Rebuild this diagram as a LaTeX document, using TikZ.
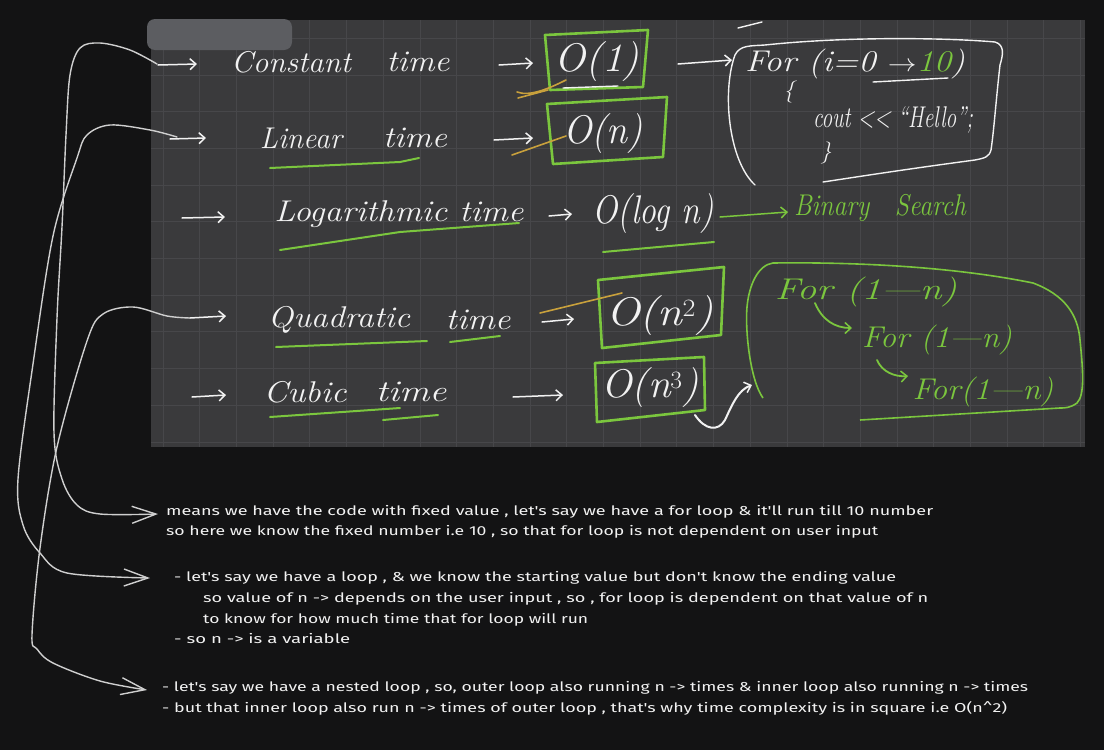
\documentclass[tikz,border=0pt]{standalone}
\usepackage{fontspec}
\usepackage{graphicx}
\usetikzlibrary{arrows.meta}
\newfontfamily\notefont{Fira Sans}
\definecolor{bgc}{HTML}{131314}
\definecolor{panelc}{HTML}{3A3A3C}
\definecolor{gridc}{HTML}{47474A}
\definecolor{blurc}{HTML}{5C5D61}
\definecolor{gr}{HTML}{7BC63E}
\definecolor{orc}{HTML}{C9A13C}
\definecolor{wt}{HTML}{F2F2F2}
\definecolor{crv}{HTML}{CFCFCF}
\newcommand\fw[2]{\resizebox{#1}{\height}{#2}}
\begin{document}
\begin{tikzpicture}[x=1pt,y=-1pt,
  hand/.style={inner sep=0pt, text=wt, font=\fontsize{30}{32}\selectfont\itshape},
  bighand/.style={hand, font=\fontsize{40}{42}\selectfont\itshape},
  smallhand/.style={hand, font=\fontsize{22}{24}\selectfont\itshape},
  ghand/.style={hand, text=gr},
  note/.style={inner sep=0pt, anchor=west, text=wt, font=\notefont\fontsize{13}{15}\selectfont},
  tinyarr/.style={wt, line width=1.5pt, line cap=round, -{Straight Barb[length=6pt,width=11pt,line width=1.5pt]}},
  gtinyarr/.style={tinyarr, gr},
  gbox/.style={gr, line width=2.6pt, line join=round},
  wbox/.style={wt, line width=1.4pt, line cap=round},
  gline/.style={gr, line width=2pt, line cap=round},
  oline/.style={orc, line width=1.6pt, line cap=round},
  longcurve/.style={crv, line width=1.4pt, line cap=round, -{Straight Barb[length=24pt,width=17pt,line width=1.4pt]}},
]
\fill[bgc] (0,0) rectangle (1104,750);
\useasboundingbox (0,0) rectangle (1104,750);
% panel
\fill[panelc] (151,20) rectangle (1085,447);
\foreach \i in {0,...,25} \draw[gridc, line width=0.8pt] ({163+36.7*\i},20) -- ({163+36.7*\i},447);
\foreach \j in {0,...,11} \draw[gridc, line width=0.8pt] (151,{38.2+36.7*\j}) -- (1085,{38.2+36.7*\j});
\fill[blurc, rounded corners=8pt] (147,19) rectangle (292,50);

% row texts
\node[hand] (cT)  at (291,62) {\fw{120pt}{Constant}};
\node[hand] (cTm) at (418,62) {\fw{63pt}{time}};
\node[hand] (lT)  at (301,138) {\fw{82pt}{Linear}};
\node[hand] (lTm) at (415,138) {\fw{64pt}{time}};
\node[hand] (gT)  at (399,214) {\fw{249pt}{Logarithmic time}};
\node[hand] (qT)  at (339,320) {\fw{142pt}{Quadratic}};
\node[hand] (qTm) at (478,320) {\fw{65pt}{time}};
\node[hand] (kT)  at (305,392) {\fw{83pt}{Cubic}};
\node[hand] (kTm) at (411,392) {\fw{71pt}{time}};

\node[bighand] (o1) at (597,62) {\fw{85pt}{O(1)}};
\node[bighand] (o2) at (603,134) {\fw{80pt}{O(n)}};
\node[bighand] (o3) at (653,214) {\fw{121pt}{O(log n)}};
\node[bighand] (o4) at (660,316) {\fw{108pt}{O(n$^2$)}};
\node[bighand] (o5) at (650,388) {\fw{98pt}{O(n$^3$)}};
\node[ghand] (bs) at (880,208) {\fw{172pt}{Binary\quad Search}};

% green boxes
\draw[gbox] (545,35) -- (648,30) -- (643,87) -- (550,90) -- cycle;
\draw[gbox] (547,104) -- (667,97) -- (663,157) -- (553,164) -- cycle;
\draw[gbox] (598,280) -- (724,267) -- (721,335) -- (602,348) -- cycle;
\draw[gbox] (595,363) -- (704,357) -- (705,410) -- (597,422) -- cycle;

% small arrows
\coordinate (s1a) at (158,65);  \coordinate (s1b) at (197,64);
\coordinate (s2a) at (170,139); \coordinate (s2b) at (206,138);
\coordinate (s3a) at (182,218); \coordinate (s3b) at (225,217);
\coordinate (s4a) at (190,318); \coordinate (s4b) at (226,316);
\coordinate (s5a) at (192,397); \coordinate (s5b) at (226,395);
\draw[tinyarr] (s1a) -- (s1b);
\draw[tinyarr] (s2a) -- (s2b);
\draw[tinyarr] (s3a) -- (s3b);
\draw[tinyarr] (s4a) -- (s4b);
\draw[tinyarr] (s5a) -- (s5b);
\coordinate (t1a) at (499,65);  \coordinate (t1b) at (533,63);
\coordinate (t2a) at (494,140); \coordinate (t2b) at (533,138);
\coordinate (t3a) at (549,216); \coordinate (t3b) at (572,214);
\coordinate (t4a) at (542,322); \coordinate (t4b) at (574,319);
\coordinate (t5a) at (513,397); \coordinate (t5b) at (563,395);
\draw[tinyarr] (t1a) -- (t1b);
\draw[tinyarr] (t2a) -- (t2b);
\draw[tinyarr] (t3a) -- (t3b);
\draw[tinyarr] (t4a) -- (t4b);
\draw[tinyarr] (t5a) -- (t5b);
\coordinate (fa) at (678,64); \coordinate (fb) at (732,60);
\draw[tinyarr] (fa) -- (fb);
\coordinate (ba) at (720,217); \coordinate (bb) at (788,212);
\draw[gtinyarr] (ba) -- (bb);

% underlines
\draw[gline] (270,168) -- (400,162) -- (419,158);
\draw[gline] (280,250) -- (400,232) -- (519,223);
\draw[gline] (603,252) -- (714,242);
\draw[gline] (276,347) -- (427,341);
\draw[gline] (450,342) -- (500,336);
\draw[gline] (270,417) -- (400,408);
\draw[gline] (383,420) -- (438,415);
\draw[wbox] (563,88) -- (618,86);
% orange strokes
\draw[oline] (517,92) .. controls (530,97) and (550,88) .. (566,80);
\draw[oline] (518,98) -- (548,90);
\draw[oline] (512,155) -- (566,136);
\draw[oline] (540,313) -- (622,293);

% for loop code box
\draw[wbox] (755,185) .. controls (728,160) and (722,90) .. (735,55) .. controls (740,45) and (750,46) .. (765,45) .. controls (850,36) and (950,38) .. (995,42) .. controls (1005,45) and (1003,55) .. (1000,65) .. controls (996,100) and (994,130) .. (991,150) .. controls (989,157) and (985,158) .. (975,160) .. controls (900,170) and (850,178) .. (823,182);
\draw[wbox] (738,28) -- (762,22);
\node[hand] (f1) at (855,64) {\fw{220pt}{For (i=0 $\rightarrow$\textcolor{gr}{10})}};
\draw[wbox] (873,82) -- (948,78);
\node[smallhand] (f2) at (789,92) {\{};
\node[hand] (f3) at (893,120) {\fw{160pt}{cout <{}< ``Hello'';}};
\node[smallhand] (f4) at (826,153) {\}};

% nested loop box
\draw[gbox, line width=1.6pt] (763,398) .. controls (750,380) and (745,330) .. (747,307) .. controls (749,285) and (758,265) .. (773,263) .. controls (850,262) and (950,266) .. (1033,283) .. controls (1065,295) and (1078,315) .. (1080,340) .. controls (1083,370) and (1085,395) .. (1077,403) .. controls (1070,408) and (1065,408) .. (1060,408) -- (860,420);
\node[ghand] (n1) at (866,292) {\fw{182pt}{For (1---n)}};
\node[ghand] (n2) at (937,340) {\fw{150pt}{For (1---n)}};
\node[ghand] (n3) at (983,392) {\fw{141pt}{For(1---n)}};
\draw[gtinyarr, line width=1.8pt] (815,303) .. controls (822,320) and (835,328) .. (852,328);
\draw[gtinyarr, line width=1.8pt] (877,360) .. controls (882,372) and (895,377) .. (908,376);
% squiggle arrow
\coordinate (qa) at (695,415);
\coordinate (qb) at (752,385);
\draw[tinyarr, line width=2pt] (qa) .. controls (705,430) and (718,432) .. (725,420) .. controls (732,405) and (738,390) .. (qb);

% long curves
\coordinate (aS) at (157,64);  \coordinate (aE) at (158,514);
\coordinate (bS) at (177,137); \coordinate (bE) at (150,578);
\coordinate (cS) at (190,318); \coordinate (cE) at (147,690);
\draw[longcurve] plot[smooth, tension=0.55] coordinates {(aS) (130,50) (100,43) (80,48) (70,75) (66,135) (62,227) (57,318) (54,433) (62,479) (77,505) (100,514) (aE)};
\draw[longcurve] plot[smooth, tension=0.55] coordinates {(bS) (150,130) (110,125) (87,135) (77,158) (53,236) (33,364) (18,479) (23,525) (40,553) (67,573) (bE)};
\draw[longcurve] plot[smooth, tension=0.55] coordinates {(cS) (167,316) (133,307) (103,314) (87,341) (57,447) (40,548) (32,635) (37,649) (53,663) (100,681) (cE)};

% notes
\node[note] (m1) at (166,512) {\fw{767pt}{means we have the code with fixed value , let's say we have a for loop \& it'll run till 10 number}};
\node[note] (m2) at (166,532) {\fw{712pt}{so here we know the fixed number i.e 10 , so that for loop is not dependent on user input}};
\node[note] (p1) at (174,578) {\fw{722pt}{- let's say we have a loop , \& we know the starting value but don't know the ending value}};
\node[note] (p2) at (203,599) {\fw{725pt}{so value of n -> depends on the user input , so , for loop is dependent on that value of n}};
\node[note] (p3) at (203,620) {\fw{385pt}{to know for how much time that for loop will run}};
\node[note] (p4) at (174,639) {\fw{176pt}{- so n -> is a variable}};
\node[note] (r1) at (162,688) {\fw{866pt}{- let's say we have a nested loop , so, outer loop also running n -> times \& inner loop also running n -> times}};
\node[note] (r2) at (162,708) {\fw{845pt}{- but that inner loop also run n -> times of outer loop , that's why time complexity is in square i.e O(n\textasciicircum 2)}};
\end{tikzpicture}
\end{document}
